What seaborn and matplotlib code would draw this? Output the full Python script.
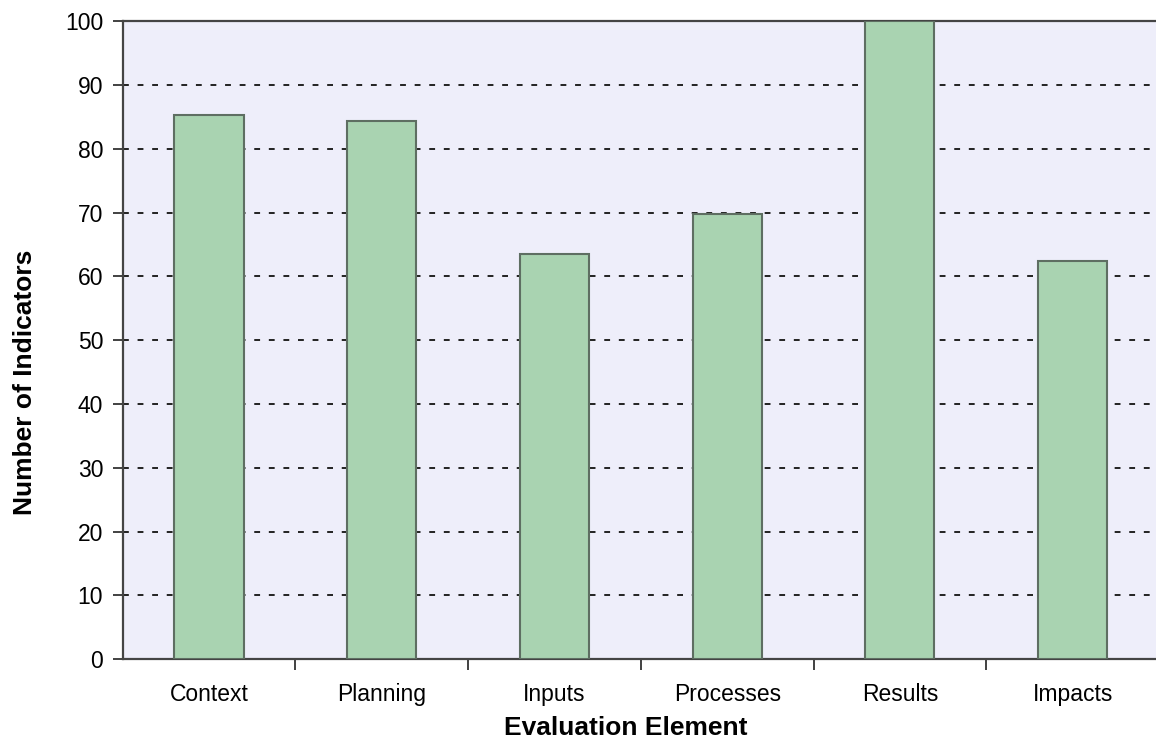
import matplotlib
matplotlib.use("Agg")
import matplotlib.pyplot as plt
import seaborn as sns
import pandas as pd
from matplotlib.ticker import FixedLocator, MultipleLocator

# Indicator counts per evaluation element
categories = ["Context", "Planning", "Inputs", "Processes", "Results", "Impacts"]
indicators = [85.3, 84.4, 63.6, 69.8, 100.0, 62.4]

df = pd.DataFrame({"element": categories, "count": indicators})

sns.set_theme(style="white")
plt.rcParams["font.family"] = ["Liberation Sans", "DejaVu Sans"]

fig = plt.figure(figsize=(11.56, 7.40), dpi=100)
ax = fig.add_axes([0.1061, 0.1091, 0.8965, 0.8621])
ax.set_facecolor("#EEEEFA")

sns.barplot(data=df, x="element", y="count", ax=ax, color="#A9D3B1",
            saturation=1, width=0.4, edgecolor="#5E6E62", linewidth=1.5,
            zorder=3)

ax.set_ylim(0, 100)
ax.set_xlim(-0.5, len(categories) - 0.5)
ax.yaxis.set_major_locator(MultipleLocator(10))
ax.grid(axis="y", color="#222222", linestyle=(0, (3, 4.5)), linewidth=1.4,
        zorder=1)
ax.grid(axis="x", visible=False)
ax.set_axisbelow(True)

# category ticks sit between the bars, labels under the bar centres
ax.xaxis.set_minor_locator(FixedLocator([i + 0.5 for i in range(len(categories) - 1)]))
ax.tick_params(axis="x", which="major", length=0, pad=17, labelsize=16.5,
               colors="#000000")
ax.tick_params(axis="x", which="minor", bottom=True, length=8, width=1.3,
               color="#333333")
ax.tick_params(axis="y", which="major", left=True, length=7, width=1.3,
               color="#333333", pad=7, labelsize=16.5, labelcolor="#000000")

for side in ("left", "top", "bottom"):
    ax.spines[side].set_visible(True)
    ax.spines[side].set_color("#444444")
    ax.spines[side].set_linewidth(1.6)
ax.spines["right"].set_visible(False)

ax.set_xlabel("Evaluation Element", fontsize=19, fontweight="bold",
              labelpad=7, color="#000000")
ax.set_ylabel("Number of Indicators", fontsize=19, fontweight="bold",
              labelpad=20, color="#000000")
ax.xaxis.label.set_x(0.4857)
ax.yaxis.label.set_y(0.4346)

fig.savefig("out.png", dpi=100)
